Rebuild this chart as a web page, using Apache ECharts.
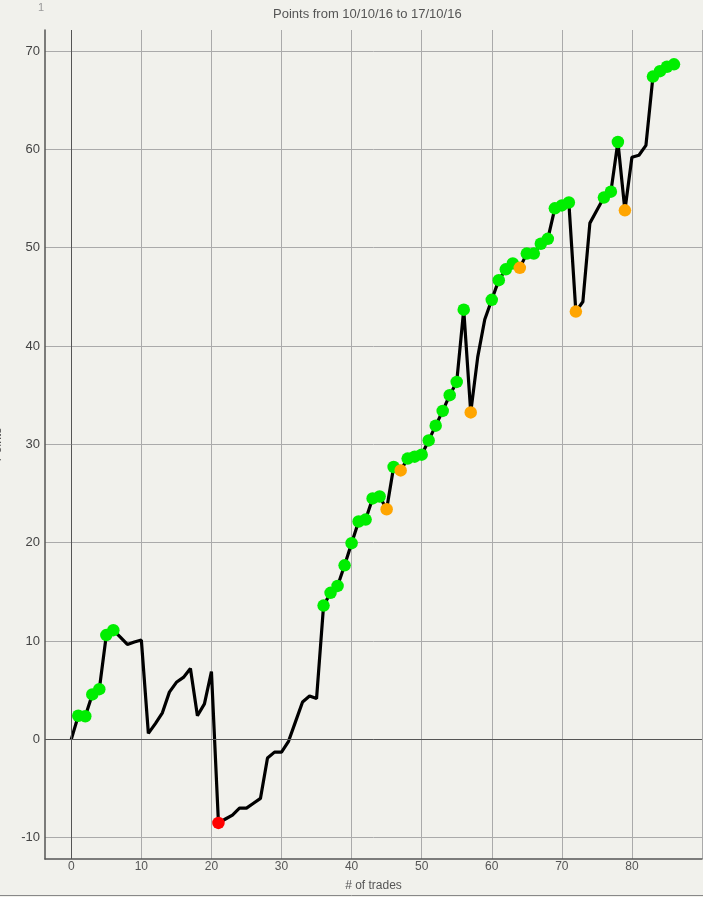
<!DOCTYPE html>
<html>
<head>
<meta charset="utf-8">
<script src="https://cdn.jsdelivr.net/npm/echarts@6/dist/echarts.min.js"></script>
<style>
  html, body { margin: 0; padding: 0; background: #f1f1ec; }
  #chart { width: 703px; height: 897px; }
</style>
</head>
<body>
<div id="chart"></div>
<script>
// Cumulative points per trade (x = trade number 0..86)
const points = [
  0, 2.4, 2.35, 4.57, 5.1, 10.6, 11.1, 10.4, 9.65, 9.9,
  10.1, 0.6, 1.6, 2.7, 4.8, 5.8, 6.3, 7.2, 2.4, 3.6,
  6.9, -8.5, -8.1, -7.7, -7.0, -7.0, -6.5, -6.0, -1.9, -1.3,
  -1.3, -0.2, 1.8, 3.8, 4.4, 4.15, 13.6, 14.9, 15.6, 17.7,
  19.95, 22.15, 22.35, 24.5, 24.7, 23.4, 27.7, 27.35, 28.55, 28.75,
  28.95, 30.4, 31.9, 33.4, 35.0, 36.35, 43.7, 33.25, 38.9, 42.7,
  44.7, 46.7, 47.8, 48.4, 47.95, 49.4, 49.4, 50.4, 50.9, 54.0,
  54.3, 54.6, 43.5, 44.5, 52.5, 53.8, 55.1, 55.7, 60.75, 53.8,
  59.2, 59.4, 60.4, 67.4, 67.95, 68.4, 68.65
];
// Marker kind per trade: '' none, 'g' green, 'o' orange, 'r' red
const markerKinds = [
  '', 'g', 'g', 'g', 'g', 'g', 'g', '', '', '',
  '', '', '', '', '', '', '', '', '', '',
  '', 'r', '', '', '', '', '', '', '', '',
  '', '', '', '', '', '', 'g', 'g', 'g', 'g',
  'g', 'g', 'g', 'g', 'g', 'o', 'g', 'o', 'g', 'g',
  'g', 'g', 'g', 'g', 'g', 'g', 'g', 'o', '', '',
  'g', 'g', 'g', 'g', 'o', 'g', 'g', 'g', 'g', 'g',
  'g', 'g', 'o', '', '', '', 'g', 'g', 'g', 'o',
  '', '', '', 'g', 'g', 'g', 'g'
];
const xTickLabels = [0, 10, 20, 30, 40, 50, 60, 70, 80];
const xGridValues = [0, 10, 20, 30, 40, 50, 60, 70, 80, 90];
const yTickLabels = [-10, 0, 10, 20, 30, 40, 50, 60, 70];

const kindColors = { g: '#00ee00', o: '#ffa500', r: '#ff0000' };

const lineData = points.map((v, i) => [i, v]);
const markerData = [];
points.forEach((v, i) => {
  const k = markerKinds[i];
  if (k) markerData.push({ value: [i, v], itemStyle: { color: kindColors[k], opacity: 1 } });
});

const chart = echarts.init(document.getElementById('chart'), null, { renderer: 'canvas' });
chart.setOption({
  backgroundColor: '#f1f1ec',
  animation: false,
  title: {
    text: 'Points from 10/10/16 to 17/10/16',
    left: 273,
    top: 8,
    padding: 0,
    textStyle: { fontFamily: 'Liberation Sans', fontSize: 13, fontWeight: 'normal', color: '#555' }
  },
  graphic: [
    { type: 'text', left: 38, top: 2, style: { text: '1', fontFamily: 'Liberation Sans', fontSize: 11, fill: '#999' } },
    { type: 'line', shape: { x1: 0, y1: 895.5, x2: 703, y2: 895.5 }, style: { stroke: '#888', lineWidth: 1 } }
  ],
  grid: { left: 45, right: 1, top: 30, bottom: 38, containLabel: false, outerBoundsMode: 'none' },
  xAxis: {
    type: 'value',
    min: -3.75,
    max: 90,
    name: '# of trades',
    nameLocation: 'middle',
    nameGap: 21,
    nameTextStyle: { fontFamily: 'Liberation Sans', fontSize: 12, color: '#555' },
    axisLine: { show: true, onZero: false, lineStyle: { color: '#555', width: 1.5 } },
    axisTick: { show: false, customValues: xGridValues },
    axisLabel: { customValues: xTickLabels, margin: 2, fontFamily: 'Liberation Sans', fontSize: 12, color: '#555' },
    splitLine: { show: true, lineStyle: { color: '#aaa', width: 1 } }
  },
  yAxis: {
    type: 'value',
    min: -12.17,
    max: 72.14,
    name: 'Points',
    nameLocation: 'middle',
    nameGap: 41,
    nameRotate: 90,
    nameTextStyle: { fontFamily: 'Liberation Sans', fontSize: 12, color: '#555' },
    axisLine: { show: true, onZero: false, lineStyle: { color: '#555', width: 1.5 } },
    axisTick: { show: false, customValues: yTickLabels },
    axisLabel: { customValues: yTickLabels, margin: 5, fontFamily: 'Liberation Sans', fontSize: 13, color: '#444' },
    splitLine: { show: true, lineStyle: { color: '#aaa', width: 1 } }
  },
  series: [
    {
      type: 'line',
      data: [],
      z: 1,
      silent: true,
      markLine: {
        silent: true,
        symbol: 'none',
        label: { show: false },
        lineStyle: { color: '#555', width: 1, type: 'solid' },
        data: [{ yAxis: 0 }, { xAxis: 0 }]
      }
    },
    {
      type: 'line',
      data: lineData,
      showSymbol: false,
      symbol: 'none',
      z: 2,
      lineStyle: { color: '#000', width: 3.2 }
    },
    {
      type: 'scatter',
      data: markerData,
      symbolSize: 12.5,
      itemStyle: { opacity: 1 },
      z: 3
    }
  ]
});
</script>
</body>
</html>
